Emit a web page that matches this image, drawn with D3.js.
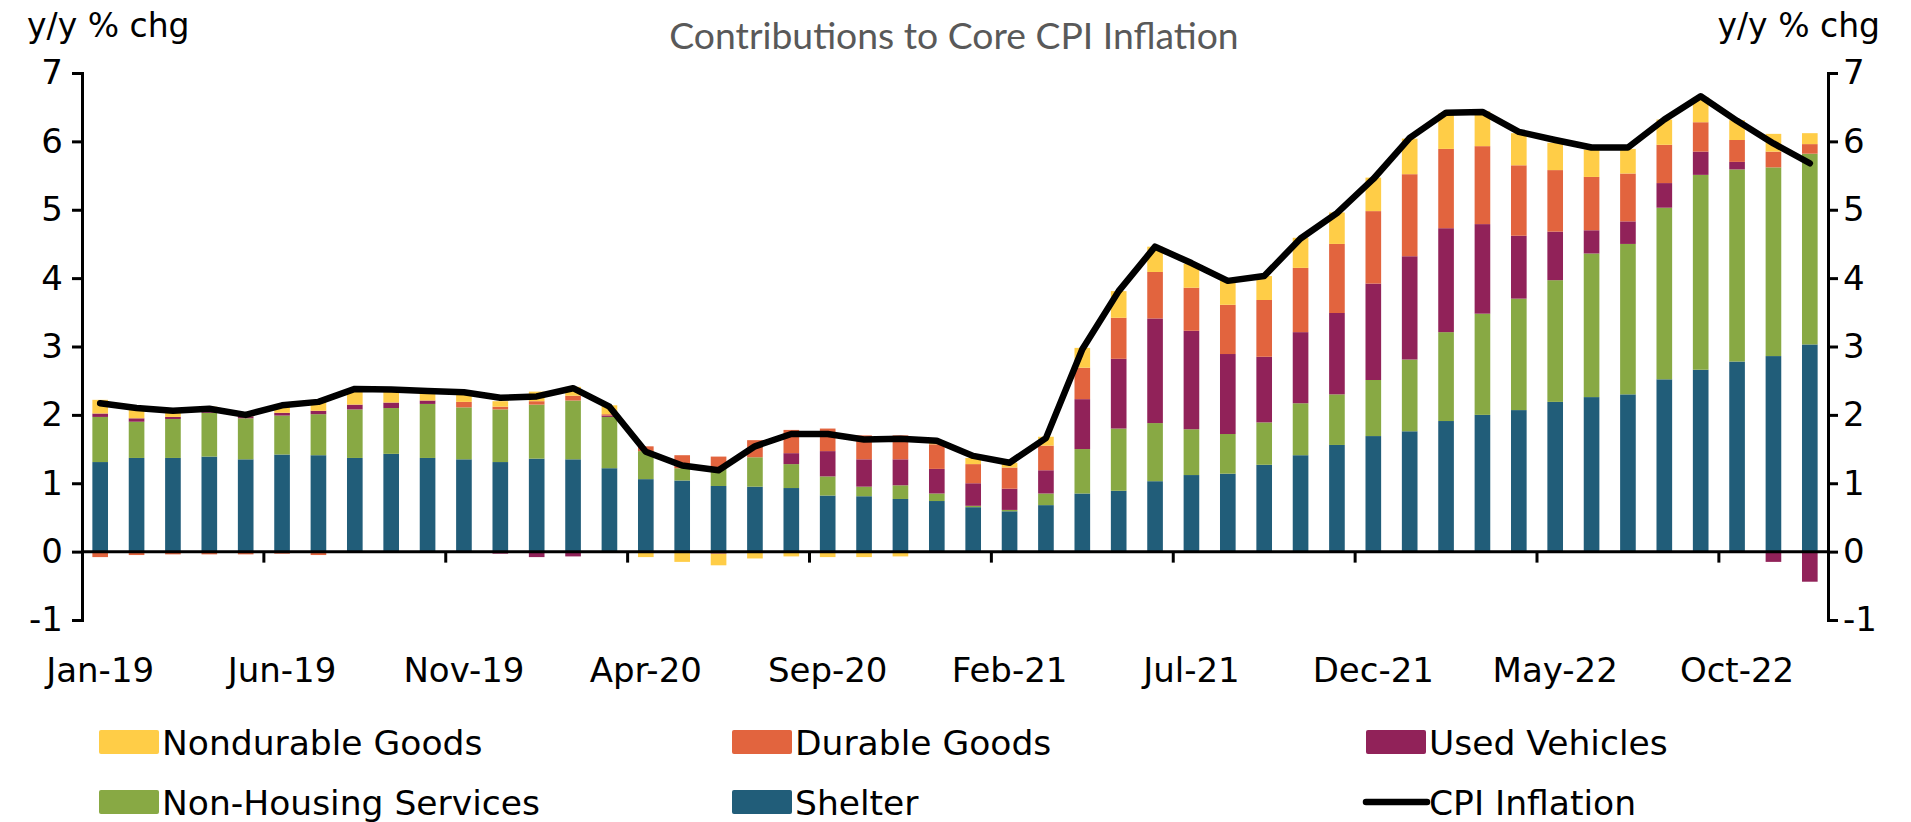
<!DOCTYPE html>
<html>
<head>
<meta charset="utf-8">
<script src="https://cdn.jsdelivr.net/npm/d3@7"></script>
<style>
  html, body { margin: 0; padding: 0; background: #ffffff; }
  svg { display: block; }
</style>
</head>
<body>
<div id="chart"></div>
<script>
// ---------------- DATA ----------------
const months = [
  "Jan-19","Feb-19","Mar-19","Apr-19","May-19","Jun-19","Jul-19","Aug-19","Sep-19","Oct-19","Nov-19","Dec-19",
  "Jan-20","Feb-20","Mar-20","Apr-20","May-20","Jun-20","Jul-20","Aug-20","Sep-20","Oct-20","Nov-20","Dec-20",
  "Jan-21","Feb-21","Mar-21","Apr-21","May-21","Jun-21","Jul-21","Aug-21","Sep-21","Oct-21","Nov-21","Dec-21",
  "Jan-22","Feb-22","Mar-22","Apr-22","May-22","Jun-22","Jul-22","Aug-22","Sep-22","Oct-22","Nov-22","Dec-22"
];
const xTickLabels = ["Jan-19","Jun-19","Nov-19","Apr-20","Sep-20","Feb-21","Jul-21","Dec-21","May-22","Oct-22"];
const yTickValues = [-1, 0, 1, 2, 3, 4, 5, 6, 7];

const shelter = [1.31,1.37,1.37,1.39,1.35,1.42,1.41,1.37,1.43,1.37,1.35,1.31,
                 1.36,1.35,1.22,1.06,1.04,0.96,0.95,0.93,0.82,0.81,0.77,0.74,
                 0.65,0.59,0.68,0.85,0.89,1.03,1.12,1.14,1.27,1.41,1.56,1.69,
                 1.76,1.91,2.00,2.07,2.19,2.26,2.30,2.52,2.66,2.78,2.86,3.03];
const nonHousingServices = [0.66,0.53,0.57,0.64,0.60,0.57,0.60,0.71,0.67,0.79,0.76,0.77,
                 0.79,0.86,0.75,0.41,0.18,0.27,0.43,0.35,0.28,0.14,0.20,0.11,
                 0.02,0.02,0.17,0.65,0.91,0.85,0.67,0.58,0.62,0.76,0.74,0.82,
                 1.05,1.30,1.48,1.63,1.78,2.10,2.20,2.51,2.85,2.81,2.76,2.79];
const usedVehicles = [0.05,0.05,0.03,0.02,0.03,0.04,0.05,0.07,0.08,0.05,-0.02,-0.03,
                 -0.08,-0.07,0.02,0.00,0.00,-0.03,0.00,0.16,0.37,0.40,0.38,0.36,
                 0.33,0.31,0.34,0.73,1.02,1.53,1.44,1.17,0.96,1.04,1.19,1.41,
                 1.51,1.52,1.31,0.92,0.71,0.34,0.33,0.36,0.34,0.11,-0.15,-0.44];
const durableGoods = [-0.08,-0.05,-0.04,-0.04,-0.04,-0.03,-0.05,0.00,0.00,0.00,0.08,0.04,
                 0.05,0.07,0.02,0.07,0.19,0.16,0.25,0.34,0.33,0.35,0.35,0.36,
                 0.28,0.31,0.36,0.46,0.60,0.68,0.63,0.72,0.83,0.94,1.01,1.06,
                 1.20,1.16,1.14,1.03,0.90,0.78,0.70,0.56,0.43,0.32,0.23,0.14];
const nondurableGoods = [0.20,0.17,0.06,0.07,0.02,0.13,0.16,0.22,0.18,0.12,0.11,0.08,
                 0.14,0.13,0.13,-0.08,-0.15,-0.17,-0.10,-0.07,-0.08,-0.08,-0.07,0.05,
                 0.09,0.07,0.13,0.29,0.39,0.37,0.35,0.35,0.35,0.44,0.46,0.49,
                 0.52,0.52,0.51,0.47,0.40,0.40,0.36,0.37,0.37,0.29,0.26,0.16];
const cpiInflation = [2.17,2.10,2.06,2.09,2.00,2.14,2.19,2.38,2.37,2.35,2.33,2.25,
                 2.27,2.39,2.12,1.46,1.26,1.19,1.54,1.72,1.72,1.64,1.65,1.62,
                 1.40,1.30,1.66,2.96,3.81,4.46,4.22,3.96,4.03,4.58,4.95,5.45,
                 6.05,6.42,6.43,6.14,6.02,5.91,5.91,6.32,6.66,6.30,5.97,5.68];

const seriesKeys  = ["shelter","nhs","used","durable","nondurable"];
const seriesNames = {shelter:"Shelter", nhs:"Non-Housing Services", used:"Used Vehicles",
                     durable:"Durable Goods", nondurable:"Nondurable Goods"};
const seriesColors = {shelter:"#215D79", nhs:"#88A944", used:"#912259",
                      durable:"#E2643E", nondurable:"#FFCD47"};

// ---------------- LAYOUT ----------------
const W = 1911, H = 822;
const plotL = 82, plotR = 1828, plotT = 73, plotB = 620;
const FONT = "'DejaVu Sans', sans-serif";

const table = months.map((m, i) => ({
  month: m, shelter: shelter[i], nhs: nonHousingServices[i], used: usedVehicles[i],
  durable: durableGoods[i], nondurable: nondurableGoods[i], cpi: cpiInflation[i]
}));

const svg = d3.select("#chart").append("svg").attr("width", W).attr("height", H);

const x = d3.scaleBand().domain(months).range([plotL, plotR]).paddingInner(0.57).paddingOuter(0.285);
const y = d3.scaleLinear().domain([-1, 7]).range([plotB, plotT]);
const step = x.step();
const cx = m => x(m) + x.bandwidth() / 2;

// ---------------- BARS ----------------
const stacked = d3.stack().keys(seriesKeys).offset(d3.stackOffsetDiverging)(table);
const gBars = svg.append("g");
stacked.forEach(s => {
  gBars.append("g").attr("fill", seriesColors[s.key])
    .selectAll("rect").data(s).join("rect")
    .attr("x", d => x(d.data.month))
    .attr("width", x.bandwidth())
    .attr("y", d => y(Math.max(d[0], d[1])))
    .attr("height", d => Math.abs(y(d[0]) - y(d[1])));
});

// ---------------- AXES ----------------
const fmt = d => String(d);
const yl = svg.append("g").attr("transform", `translate(${plotL},0)`)
  .call(d3.axisLeft(y).tickValues(yTickValues).tickSize(10).tickPadding(9).tickFormat(fmt));
const yr = svg.append("g").attr("transform", `translate(${plotR},0)`)
  .call(d3.axisRight(y).tickValues(yTickValues).tickSize(10).tickPadding(5).tickFormat(fmt));
[yl, yr].forEach(g => {
  g.select(".domain").attr("stroke", "#000").attr("stroke-width", 3);
  g.selectAll(".tick line").attr("stroke", "#000").attr("stroke-width", 3);
  g.selectAll(".tick text").attr("font-family", FONT).attr("font-size", 34).attr("fill", "#000");
});

// zero line + category ticks
const xa = svg.append("g");
xa.append("line").attr("x1", plotL).attr("x2", plotR).attr("y1", y(0)).attr("y2", y(0))
  .attr("stroke", "#000").attr("stroke-width", 3);
const labelIdx = months.map((m, i) => i).filter(i => xTickLabels.includes(months[i]));
xa.selectAll("line.tk").data(labelIdx.filter(i => i > 0)).join("line").attr("class", "tk")
  .attr("x1", i => cx(months[i]) - step / 2).attr("x2", i => cx(months[i]) - step / 2)
  .attr("y1", y(0)).attr("y2", y(0) + 11)
  .attr("stroke", "#000").attr("stroke-width", 3);
xa.selectAll("text").data(labelIdx).join("text")
  .attr("x", i => cx(months[i])).attr("y", 682)
  .attr("text-anchor", "middle").attr("font-family", FONT).attr("font-size", 34).attr("fill", "#000")
  .text(i => months[i]);

// ---------------- LINE ----------------
svg.append("path").datum(table)
  .attr("fill", "none").attr("stroke", "#000").attr("stroke-width", 6.5)
  .attr("stroke-linejoin", "round").attr("stroke-linecap", "round")
  .attr("d", d3.line().x(d => cx(d.month)).y(d => y(d.cpi)));

// ---------------- TITLES ----------------
svg.append("text").attr("x", 954).attr("y", 49).attr("text-anchor", "middle")
  .attr("font-family", "Lato, 'Open Sans', sans-serif").attr("font-size", 37.3).attr("fill", "#595959")
  .text("Contributions to Core CPI Inflation");
svg.append("text").attr("x", 27).attr("y", 37).attr("font-family", FONT).attr("font-size", 33)
  .attr("fill", "#000").text("y/y % chg");
svg.append("text").attr("x", 1880).attr("y", 37).attr("text-anchor", "end").attr("font-family", FONT)
  .attr("font-size", 33).attr("fill", "#000").text("y/y % chg");

// ---------------- LEGEND ----------------
const legendItems = [
  {key:"nondurable", col:0, row:0}, {key:"durable", col:1, row:0}, {key:"used", col:2, row:0},
  {key:"nhs", col:0, row:1}, {key:"shelter", col:1, row:1}, {key:"cpi", col:2, row:1}
];
const colX = [99, 732, 1366], rowY = [742, 802];
const lg = svg.append("g");
legendItems.forEach(it => {
  const g = lg.append("g").attr("transform", `translate(${colX[it.col]},${rowY[it.row]})`);
  if (it.key === "cpi") {
    g.append("line").attr("x1", 0).attr("x2", 61).attr("y1", 0).attr("y2", 0)
      .attr("stroke", "#000").attr("stroke-width", 6.5).attr("stroke-linecap", "round");
  } else {
    g.append("rect").attr("x", 0).attr("y", -12).attr("width", 60).attr("height", 24)
      .attr("rx", 2).attr("fill", seriesColors[it.key]);
  }
  g.append("text").attr("x", 63).attr("y", 13).attr("font-family", FONT).attr("font-size", 34.5)
    .attr("fill", "#000").text(it.key === "cpi" ? "CPI Inflation" : seriesNames[it.key]);
});
</script>
</body>
</html>
